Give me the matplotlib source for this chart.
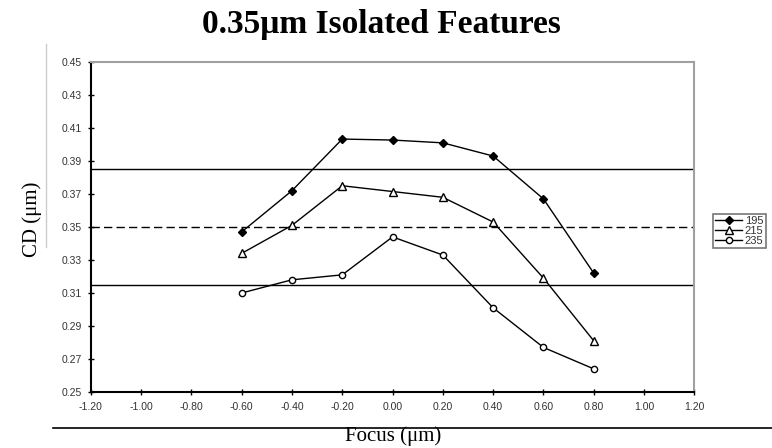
import matplotlib.pyplot as plt
from matplotlib.lines import Line2D

# focus sweep (um) and measured CD (um) per exposure dose
focus = [-0.6, -0.4, -0.2, 0.0, 0.2, 0.4, 0.6, 0.8]
cd_195 = [0.347, 0.372, 0.4033, 0.4027, 0.401, 0.393, 0.367, 0.322]
cd_215 = [0.334, 0.351, 0.375, 0.3715, 0.368, 0.353, 0.319, 0.281]
cd_235 = [0.310, 0.318, 0.321, 0.344, 0.333, 0.301, 0.277, 0.264]
doses = ["195", "215", "235"]

target = 0.35
spec_hi = 0.385
spec_lo = 0.315

x_ticks = [-1.2, -1.0, -0.8, -0.6, -0.4, -0.2, 0.0, 0.2, 0.4, 0.6, 0.8, 1.0, 1.2]
y_ticks = [0.25, 0.27, 0.29, 0.31, 0.33, 0.35, 0.37, 0.39, 0.41, 0.43, 0.45]


def main():
    fig = plt.figure(figsize=(7.72, 4.48), dpi=100)
    ax = fig.add_axes([0.1175, 0.125, 0.782, 0.7366])

    ax.axhline(spec_hi, color="black", lw=1.0, zorder=1)
    ax.axhline(spec_lo, color="black", lw=1.0, zorder=1)
    ax.axhline(target, color="black", lw=1.0, ls=(0, (6, 3)), zorder=1)

    ax.plot(focus, cd_195, color="black", lw=1.0, marker="D", ms=4.5,
            mfc="black", mec="black", label=doses[0], zorder=3)
    ax.plot(focus, cd_215, color="black", lw=1.0, marker="^", ms=5.5,
            mfc="white", mec="black", mew=1.0, label=doses[1], zorder=3)
    ax.plot(focus, cd_235, color="black", lw=1.0, marker="o", ms=4.5,
            mfc="white", mec="black", mew=1.0, label=doses[2], zorder=3)

    ax.set_xlim(-1.2, 1.2)
    ax.set_ylim(0.25, 0.45)
    ax.set_xticks(x_ticks)
    ax.set_yticks(y_ticks)
    ax.set_xticklabels([f"{v:.2f}" for v in x_ticks])
    ax.set_yticklabels([f"{v:.2f}" for v in y_ticks])
    ax.tick_params(direction="inout", length=5, width=1.0, color="black",
                   labelsize=7.5, labelcolor="#333333",
                   labelfontfamily="Liberation Sans")
    ax.tick_params(axis="x", pad=5)
    ax.tick_params(axis="y", pad=4)

    for side in ("left", "bottom"):
        ax.spines[side].set_color("black")
        ax.spines[side].set_linewidth(1.5)
    for side in ("top", "right"):
        ax.spines[side].set_color("#a0a0a0")
        ax.spines[side].set_linewidth(1.5)

    leg = fig.legend(loc="upper left", bbox_to_anchor=(713 / 772, 1 - 214 / 448),
                     prop={"family": "Liberation Sans", "size": 8},
                     frameon=True, fancybox=False, handlelength=2.4,
                     handletextpad=0.25, borderpad=0.2, labelspacing=0.0,
                     borderaxespad=0)
    leg.get_frame().set_edgecolor("#555555")
    leg.get_frame().set_linewidth(1.2)
    for t in leg.get_texts():
        t.set_color("#333333")

    fig.text(381 / 772, 1 - 24 / 448, "0.35\u03bcm Isolated Features",
             ha="center", va="center", fontsize=24, fontweight="bold",
             family="Liberation Serif")

    fig.text(32 / 772, 1 - 219 / 448, "CD (\u03bcm)", rotation=90,
             ha="center", va="center", fontsize=15, family="Liberation Serif")

    # frame pieces around the plot area
    fig.add_artist(Line2D([45.5 / 772, 45.5 / 772], [1 - 44 / 448, 1 - 247 / 448],
                          color="#cccccc", lw=1.0, zorder=0))
    fig.add_artist(Line2D([53 / 772, 1.0], [1 - 428 / 448, 1 - 428 / 448],
                          color="black", lw=1.2, zorder=0))

    fig.text(393 / 772, 1 - 436 / 448, "Focus (\u03bcm)", ha="center",
             va="center", fontsize=15, family="Liberation Serif", zorder=2)

    fig.savefig("out.png", dpi=100)


if __name__ == "__main__":
    main()
